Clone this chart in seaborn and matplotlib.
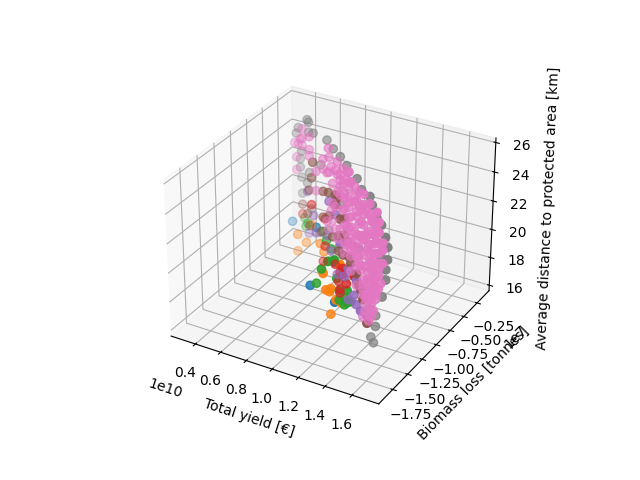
import matplotlib
matplotlib.use('Agg')
import numpy as np
import pandas as pd
import matplotlib.pyplot as plt
import seaborn as sns

# yield in 1e10 euro, biomass loss in 1e7 tonnes, distance in km
gray_yield = [.50,.53,.35,.32,.53,.61,.78,.88,.99,1.09,1.24,1.31,1.43,1.47,1.53,1.60,.69,.38,.38,.54,.40,.50,1.66,1.69,1.67,1.67,1.62,1.54,1.53,1.47,1.49,1.28,.99,.40,1.60,1.69,
              .42,.57,.81,.96,1.13,1.43]
gray_loss = [-.37,-.41,-.21,-.18,-.41,-.50,-.63,-.74,-.86,-.97,-1.13,-1.21,-1.34,-1.39,-1.45,-1.53,-.54,-.24,-.24,-.42,-.26,-.37,-1.60,-1.63,-1.61,-1.61,-1.55,-1.47,-1.45,-1.39,-1.39,-1.18,-.86,-.26,-1.53,-1.63,
             -.29,-.45,-.66,-.82,-1.02,-1.34]
gray_dist = [25.72,25.74,24.33,23.78,25.06,25.46,25.8,25.8,25.93,25.93,25.97,25.69,25.99,25.7,25.24,25.23,23.61,22.3,21.7,22.3,21.1,21.3,24.84,24.38,22.79,22.11,20.61,18.8,17.95,16.8,16.45,21.55,22.69,22.95,23.07,23.57,
             20.1,19.9,19.73,19.43,18.68,18.43]

pink_yield = [.28,.42,.38,.54,.31,.31,.80,.81,.94,1.03,.87,1.09,1.13,.94,1.28,1.13,1.38,1.24,1.03,1.47,1.28,1.09,.80,1.53,1.38,1.62,1.43,1.28,1.53,1.38,1.57,1.43,1.53,1.40,1.53,1.38,1.47,1.43,1.13,1.09,1.24,.65,.87,1.06,1.21,1.35,1.13,.91,1.50,1.31,1.57,1.46,1.28,1.16,1.62,1.50,1.35,1.50,1.35,1.46,.99,.78,.42,.54,.72,.87,1.06,1.21,
              .99,1.13,1.03,1.16,1.06,1.21,1.35,1.13,1.28,1.43,1.24,1.43,1.54,1.16,1.35,1.57,1.13,1.38,1.57,1.46,1.21,1.43,1.57,1.28,1.50,1.35,1.31,1.46,1.57,1.50,1.40,1.35,1.46,1.57,1.40,1.38,1.50,1.46,
              .91,.81,.65,.54,.42,.35,.99,1.13,.84,.78,.94,1.06,1.16,1.25,
              1.10,1.21,1.09,1.25,1.31,1.16,1.46,1.31,1.21,1.53,1.43,1.35,1.24,1.50,1.62,1.40,1.54,1.25,1.43,1.57,1.32,1.50,1.40,1.54,1.46,1.35,1.60,1.50,1.43,1.54,1.35,1.46,1.38,1.43,
              .99,.94,.84,1.13,.72,1.06,.99,1.06,.91,1.09,1.16,1.25,1.16,1.28,1.35,1.50]
pink_loss = [-.13,-.29,-.24,-.42,-.16,-.16,-.65,-.66,-.80,-.90,-.73,-.97,-1.02,-.80,-1.18,-1.02,-1.29,-1.13,-.90,-1.39,-1.18,-.97,-.65,-1.45,-1.29,-1.55,-1.34,-1.18,-1.45,-1.29,-1.50,-1.34,-1.45,-1.30,-1.45,-1.29,-1.39,-1.34,-1.02,-.97,-1.13,-.54,-.73,-.94,-1.10,-1.26,-1.02,-.77,-1.42,-1.21,-1.50,-1.37,-1.18,-1.05,-1.55,-1.42,-1.26,-1.42,-1.26,-1.37,-.86,-.63,-.29,-.42,-.57,-.73,-.94,-1.10,
             -.86,-1.02,-.90,-1.05,-.94,-1.10,-1.26,-1.02,-1.18,-1.34,-1.13,-1.34,-1.47,-1.05,-1.26,-1.50,-1.02,-1.29,-1.50,-1.37,-1.10,-1.34,-1.50,-1.18,-1.42,-1.26,-1.21,-1.37,-1.50,-1.42,-1.30,-1.26,-1.37,-1.50,-1.30,-1.29,-1.42,-1.37,
             -.77,-.66,-.54,-.42,-.29,-.21,-.86,-1.02,-.69,-.63,-.80,-.94,-1.05,-1.15,
             -.98,-1.10,-.97,-1.15,-1.21,-1.05,-1.37,-1.21,-1.10,-1.45,-1.34,-1.26,-1.13,-1.42,-1.55,-1.30,-1.47,-1.15,-1.34,-1.50,-1.23,-1.42,-1.30,-1.47,-1.37,-1.26,-1.53,-1.42,-1.34,-1.47,-1.26,-1.37,-1.29,-1.34,
             -.86,-.80,-.69,-1.02,-.57,-.94,-.86,-.94,-.77,-.97,-1.05,-1.15,-1.05,-1.18,-1.26,-1.42]
pink_dist = [22.85,24.65,23.7,23.9,22.0,21.1,25.36,24.8,25.28,25.37,23.39,24.98,24.62,23.25,25.34,23.74,24.86,23.8,22.53,24.62,23.24,21.87,19.76,23.69,22.84,23.72,22.28,21.62,22.2,21.01,21.71,20.25,20.65,19.23,19.84,18.45,18.74,17.61,20.84,21.4,22.25,21.7,22.04,23.89,24.27,24.32,22.73,22.03,24.02,22.65,23.2,21.88,20.61,20.24,22.84,21.32,19.93,19.97,17.36,19.31,24.38,23.57,23.5,24.8,23.49,20.82,20.51,20.89,
             24.72,25.77,24.36,25.3,23.55,24.61,25.67,23.41,24.46,25.52,23.47,24.84,25.69,22.26,23.64,25.22,21.38,23.18,24.55,23.7,21.23,22.82,23.87,21.08,22.67,21.61,20.28,21.34,22.18,20.98,20.24,19.25,19.99,20.83,18.89,17.97,18.82,18.09,
             24.52,23.78,23.05,23.45,24.0,23.2,23.36,22.05,21.29,20.2,20.0,19.84,19.22,18.84,
             25.56,25.28,23.76,24.59,24.34,22.94,24.72,23.53,22.24,24.43,23.7,22.63,21.78,23.34,24.19,22.27,22.99,20.87,21.67,22.52,20.72,21.79,20.78,21.43,20.66,19.59,21.38,20.64,19.64,20.28,18.91,18.97,18.92,18.09,
             23.91,24.4,24.33,25.09,24.16,22.88,21.0,21.73,20.47,20.59,21.25,20.2,20.71,22.43,24.99,24.7]

brown_yield = [.60,.57,.72,.42,.91,.94,.96,.87,1.10,.96,1.03,1.16,1.25,1.32,1.35,1.40,.54,.80,1.06,.72,.53,1.21,
               .50,.81,.69,.99,1.06,1.13,1.28,.91]
brown_loss = [-.49,-.45,-.57,-.29,-.77,-.80,-.82,-.73,-.98,-.82,-.90,-1.05,-1.15,-1.23,-1.26,-1.30,-.42,-.65,-.94,-.57,-.41,-1.10,
              -.37,-.66,-.54,-.86,-.94,-1.02,-1.18,-.77]
brown_dist = [23.4,22.1,21.93,19.3,22.16,22.84,20.31,19.68,20.83,19.23,19.43,19.76,19.66,19.03,18.57,17.2,18.5,22.32,22.2,20.11,21.0,21.23,
              19.1,20.74,18.89,21.68,21.05,20.03,19.05,22.83]

purple_yield = [.94,1.25,1.21,1.31,1.40,.84,.53,.65,.50,.91,.81,1.13,.61,.78,.99,1.06,1.13,1.24]
purple_loss = [-.80,-1.15,-1.10,-1.21,-1.30,-.69,-.41,-.54,-.37,-.77,-.66,-1.02,-.50,-.63,-.86,-.94,-1.02,-1.13]
purple_dist = [17.44,19.18,17.85,17.45,17.74,18.45,17.9,18.7,20.7,21.48,21.76,19.15,19.7,19.18,19.99,18.15,16.99,17.39]

red_yield = [.72,.74,1.03,1.03,.96,1.09,.99,.99,1.21,.57,.42,.74,.91,.99]
red_loss = [-.57,-.58,-.90,-.90,-.82,-.97,-.86,-.86,-1.10,-.45,-.29,-.58,-.77,-.86]
red_dist = [16.93,18.12,18.48,18.07,17.07,17.82,16.74,16.47,19.2,20.2,18.6,20.08,17.97,17.96]

green_yield = [.87,.91,1.11,1.09,1.14,1.11,1.05,1.01,.96,1.03,.47,.45,.77,.84,.50,.72,1.09,1.05]
green_loss = [-1.0,-1.0,-1.0,-1.0,-1.0,-1.0,-1.0,-1.0,-1.0,-1.0,-.34,-.32,-.62,-.69,-.37,-.57,-1.0,-1.0]
green_dist = [17.38,18.5,17.52,16.44,16.8,16.64,17.34,19.4,19.17,18.15,18.0,18.5,18.74,18.59,18.4,19.09,16.92,16.67]

orange_yield = [1.03,.99,1.02,1.03,1.11,.97,1.10,.74,.48,.48,.55,.59,1.07,.71]
orange_loss = [-1.1,-1.1,-1.1,-1.1,-1.1,-1.1,-1.1,-.6,-.5,-.5,-.5,-.5,-1.1,-.6]
orange_dist = [16.0,17.62,17.57,17.82,17.03,18.73,19.7,17.78,18.0,16.8,17.6,19.0,17.12,18.3]

blue_yield = [.82,1.06,.29,1.01,.65]
blue_loss = [-1.0,-1.1,-.2,-1.0,-.54]
blue_dist = [17.09,16.94,17.4,19.26,19.1]

palette = sns.color_palette('tab10')

# back to front, same colours as the default cycle
groups = [
    (gray_yield, gray_loss, gray_dist, palette[7]),
    (blue_yield, blue_loss, blue_dist, palette[0]),
    (orange_yield, orange_loss, orange_dist, palette[1]),
    (green_yield, green_loss, green_dist, palette[2]),
    (red_yield, red_loss, red_dist, palette[3]),
    (purple_yield, purple_loss, purple_dist, palette[4]),
    (brown_yield, brown_loss, brown_dist, palette[5]),
    (pink_yield, pink_loss, pink_dist, palette[6]),
]

fig = plt.figure(figsize=(6.4, 4.8), dpi=100)
ax = fig.add_subplot(projection='3d', computed_zorder=False)

for yld, loss, dist, col in groups:
    df = pd.DataFrame({'yield': np.array(yld) * 1e10, 'loss': np.array(loss) * 1e7, 'dist': dist})
    ax.scatter(df['yield'], df['loss'], df['dist'], color=col, s=36)

ax.set_xlim(0.205e10, 1.795e10)
ax.set_ylim(-1.98e7, -0.02e7)
ax.set_zlim(15.6, 26.3)

ax.set_xlabel('Total yield [€]')
ax.set_ylabel('Biomass loss [tonnes]')
ax.set_zlabel('Average distance to protected area [km]')

fig.savefig('out.png', dpi=100)
